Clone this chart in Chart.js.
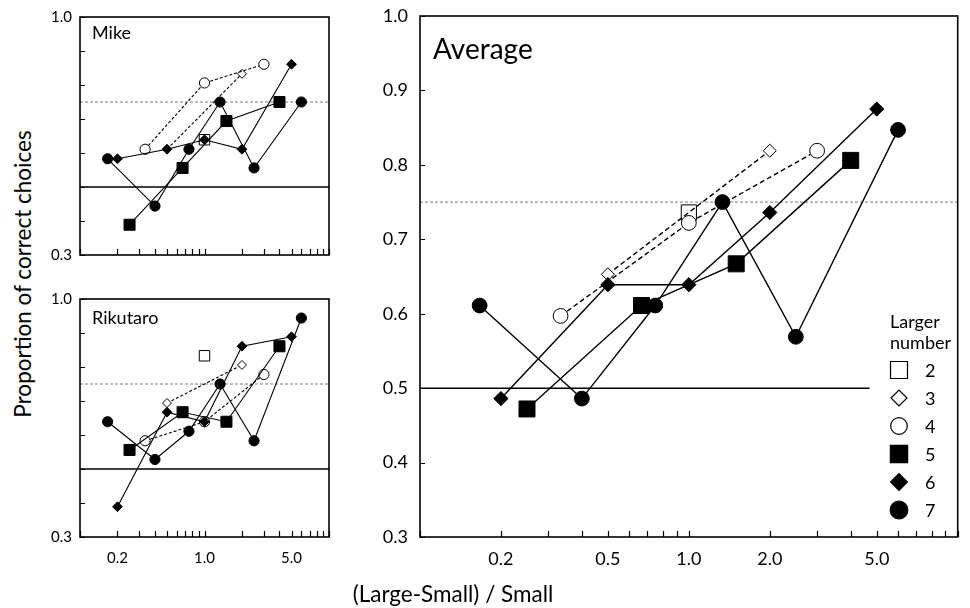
<!DOCTYPE html>
<html>
<head>
<meta charset="utf-8">
<script src="https://cdn.jsdelivr.net/npm/chart.js@4"></script>
<style>
body { margin: 0; background: #fff; font-family: Lato, sans-serif; }
#wrap { position: relative; width: 970px; height: 608px; overflow: hidden; }
.box { position: absolute; }
.txt { position: absolute; color: #000; white-space: nowrap; line-height: 1.2; }
#ytitle { left: 22px; top: 274px; font-size: 22.5px; transform: translate(-50%, -50%) rotate(-90deg); }
#xtitle { left: 453px; top: 593px; font-size: 22.5px; transform: translate(-50%, -50%); }
</style>
</head>
<body>
<div id="wrap">
  <div class="box" style="left:40px;top:0;width:300px;height:270px"><canvas id="chart"></canvas></div>
  <div class="box" style="left:40px;top:282px;width:300px;height:300px"><canvas id="chart2"></canvas></div>
  <div class="box" style="left:370px;top:0;width:600px;height:580px"><canvas id="chart3"></canvas></div>
  <div class="txt" style="left:92px;top:22px;font-size:18px">Mike</div>
  <div class="txt" style="left:92px;top:307px;font-size:18px">Rikutaro</div>
  <div class="txt" style="left:433px;top:32px;font-size:28px">Average</div>
  <div class="txt" id="ytitle">Proportion of correct choices</div>
  <div class="txt" id="xtitle">(Large-Small) / Small</div>
</div>
<script>
// (Large-Small)/Small for each larger number
const largerNumbers = [2, 3, 4, 5, 6, 7];
const ratio2 = [1.0];
const ratio3 = [0.5, 2.0];
const ratio4 = [1 / 3, 1.0, 3.0];
const ratio5 = [0.25, 2 / 3, 1.5, 4.0];
const ratio6 = [0.2, 0.5, 1.0, 2.0, 5.0];
const ratio7 = [1 / 6, 0.4, 0.75, 4 / 3, 2.5, 6.0];

const mike2 = [0.639];
const mike3 = [0.611, 0.833];
const mike4 = [0.611, 0.806, 0.861];
const mike5 = [0.389, 0.556, 0.694, 0.750];
const mike6 = [0.583, 0.611, 0.639, 0.611, 0.861];
const mike7 = [0.583, 0.444, 0.611, 0.750, 0.556, 0.750];

const riku2 = [0.833];
const riku3 = [0.694, 0.806];
const riku4 = [0.583, 0.639, 0.778];
const riku5 = [0.556, 0.667, 0.639, 0.861];
const riku6 = [0.389, 0.667, 0.639, 0.861, 0.889];
const riku7 = [0.639, 0.528, 0.611, 0.750, 0.583, 0.944];

const avg2 = [0.736];
const avg3 = [0.653, 0.819];
const avg4 = [0.597, 0.722, 0.819];
const avg5 = [0.472, 0.611, 0.667, 0.806];
const avg6 = [0.486, 0.639, 0.639, 0.736, 0.875];
const avg7 = [0.611, 0.486, 0.611, 0.750, 0.569, 0.847];

const xTicks = [0.1, 0.2, 0.3, 0.4, 0.5, 0.6, 0.7, 0.8, 0.9, 1, 2, 3, 4, 5, 6, 7, 8, 9, 10];
const xLabelsAvg = [0.2, 0.5, 1, 2, 5];
const xLabelsSmall = [0.2, 1, 5];
const yTicks = [0.3, 0.4, 0.5, 0.6, 0.7, 0.8, 0.9, 1.0];
const yLabelsSmall = [0.3, 1.0];
const chanceLevel = 0.5;
const criterionLevel = 0.75;

const ratios = [ratio2, ratio3, ratio4, ratio5, ratio6, ratio7];
const styles = [
    { pointStyle: 'rect', open: true },
    { pointStyle: 'rectRot', open: true },
    { pointStyle: 'circle', open: true },
    { pointStyle: 'rect', open: false },
    { pointStyle: 'rectRot', open: false },
    { pointStyle: 'circle', open: false },
];

Chart.defaults.font.family = 'Lato, sans-serif';
Chart.defaults.color = '#000';

function pointRadius(style, big) {
    const s = big ? 1.45 : 1;
    if (style.pointStyle === 'rect') return (style.open ? 7.4 : 7.8) * s;
    if (style.pointStyle === 'rectRot') return (style.open ? 4.5 : 4.9) * s;
    return 5.1 * s;
}

function makeDatasets(series, big) {
    return series.map((vals, i) => {
        const st = styles[i];
        return {
            label: String(largerNumbers[i]),
            data: ratios[i].map((x, j) => ({ x: x, y: vals[j] })),
            showLine: true,
            borderColor: '#000',
            borderWidth: big ? 1.4 : 1.1,
            borderDash: st.open ? (big ? [5, 3] : [3, 2]) : [],
            pointStyle: st.pointStyle,
            pointRadius: pointRadius(st, big),
            pointBackgroundColor: st.open ? '#fff' : '#000',
            pointBorderColor: '#000',
            pointBorderWidth: 1,
            order: 7 - largerNumbers[i],
        };
    });
}

const refLines = {
    id: 'refLines',
    beforeDatasetsDraw(chart, args, opts) {
        const { ctx, chartArea: a, scales: { x, y } } = chart;
        ctx.save();
        let py = y.getPixelForValue(criterionLevel);
        ctx.strokeStyle = '#7a7a7a';
        ctx.lineWidth = 1;
        ctx.setLineDash([3, 2]);
        ctx.beginPath(); ctx.moveTo(a.left, py); ctx.lineTo(a.right, py); ctx.stroke();
        py = y.getPixelForValue(chanceLevel);
        const end = opts.solidEnd ? x.getPixelForValue(opts.solidEnd) : a.right;
        ctx.strokeStyle = '#000';
        ctx.lineWidth = 1.5;
        ctx.setLineDash([]);
        ctx.beginPath(); ctx.moveTo(a.left, py); ctx.lineTo(end, py); ctx.stroke();
        ctx.restore();
    }
};

const frameTicks = {
    id: 'frameTicks',
    afterDraw(chart) {
        const { ctx, chartArea: a, scales: { x, y } } = chart;
        ctx.save();
        ctx.strokeStyle = '#000';
        ctx.lineWidth = 1.2;
        ctx.beginPath();
        x.ticks.forEach(t => {
            const px = Math.round(x.getPixelForValue(t.value)) + 0.5;
            ctx.moveTo(px, a.bottom); ctx.lineTo(px, a.bottom - 6);
        });
        y.ticks.forEach(t => {
            const py = Math.round(y.getPixelForValue(t.value)) + 0.5;
            ctx.moveTo(a.left, py); ctx.lineTo(a.left + 5, py);
        });
        ctx.stroke();
        ctx.lineWidth = 1.6;
        ctx.strokeRect(a.left, a.top, a.right - a.left, a.bottom - a.top);
        ctx.restore();
    }
};

const legendBox = {
    id: 'legendBox',
    afterDraw(chart) {
        const ctx = chart.ctx;
        ctx.save();
        ctx.fillStyle = '#000';
        ctx.font = '18px Lato, sans-serif';
        ctx.textBaseline = 'alphabetic';
        ctx.fillText('Larger', 520, 328);
        ctx.fillText('number', 520, 349);
        const sizes = [12, 8, 8.3, 12.2, 8.4, 8.8];
        styles.forEach((st, i) => {
            const cy = 370 + i * 28;
            ctx.fillStyle = st.open ? '#fff' : '#000';
            ctx.strokeStyle = '#000';
            ctx.lineWidth = 1.2;
            Chart.helpers.drawPoint(ctx, { pointStyle: st.pointStyle, radius: sizes[i], rotation: 0, borderWidth: 1.2 }, 529, cy);
            ctx.fillStyle = '#000';
            ctx.textBaseline = 'middle';
            ctx.fillText(String(largerNumbers[i]), 555, cy + 1);
        });
        ctx.restore();
    }
};

function panelOptions(cfg) {
    return {
        responsive: true,
        maintainAspectRatio: false,
        animation: false,
        layout: { padding: { top: cfg.top, right: cfg.right, left: 0, bottom: 0 } },
        plugins: {
            legend: { display: false },
            tooltip: { enabled: false },
            refLines: { solidEnd: cfg.solidEnd },
        },
        scales: {
            x: {
                type: 'logarithmic',
                min: 0.1,
                max: 10,
                afterBuildTicks: (s) => { s.ticks = xTicks.map(v => ({ value: v })); },
                afterFit: (s) => { s.height = cfg.xHeight; s.paddingLeft = 0; s.paddingRight = 0; },
                grid: { display: false, drawTicks: false },
                border: { display: false },
                ticks: {
                    autoSkip: false,
                    maxRotation: 0,
                    padding: cfg.xPad,
                    font: { size: cfg.font },
                    callback: (v) => cfg.xLabels.includes(v) ? v.toFixed(1) : '',
                },
            },
            y: {
                min: 0.3,
                max: 1.0,
                afterBuildTicks: (s) => { s.ticks = yTicks.map(v => ({ value: v })); },
                afterFit: (s) => { s.width = cfg.yWidth; s.paddingTop = 0; s.paddingBottom = 0; },
                grid: { display: false, drawTicks: false },
                border: { display: false },
                ticks: {
                    padding: cfg.yPad,
                    font: { size: cfg.font },
                    callback: (v) => (!cfg.yLabels || cfg.yLabels.some(l => Math.abs(l - v) < 1e-6)) ? v.toFixed(1) : '',
                },
            },
        },
    };
}

function mikeChart(ctx) {
    const chart = new Chart(ctx, {
        type: 'line',
        data: { datasets: makeDatasets([mike2, mike3, mike4, mike5, mike6, mike7], false) },
        options: panelOptions({ top: 17, right: 11, xHeight: 15, yWidth: 40, xPad: 8, yPad: 8, font: 15, xLabels: [], yLabels: yLabelsSmall }),
        plugins: [refLines, frameTicks],
    })
}

function rikuChart(ctx) {
    const chart = new Chart(ctx, {
        type: 'line',
        data: { datasets: makeDatasets([riku2, riku3, riku4, riku5, riku6, riku7], false) },
        options: panelOptions({ top: 17, right: 11, xHeight: 45, yWidth: 40, xPad: 12, yPad: 8, font: 15, xLabels: xLabelsSmall, yLabels: yLabelsSmall }),
        plugins: [refLines, frameTicks],
    })
}

function avgChart(ctx) {
    const chart = new Chart(ctx, {
        type: 'line',
        data: { datasets: makeDatasets([avg2, avg3, avg4, avg5, avg6, avg7], true) },
        options: panelOptions({ top: 16, right: 4, xHeight: 43, yWidth: 50, xPad: 11, yPad: 12, font: 18, xLabels: xLabelsAvg, yLabels: null, solidEnd: 4.7 }),
        plugins: [refLines, frameTicks, legendBox],
    })
}

mikeChart(document.getElementById('chart').getContext('2d'))
rikuChart(document.getElementById('chart2').getContext('2d'))
avgChart(document.getElementById('chart3').getContext('2d'))
</script>
</body>
</html>
